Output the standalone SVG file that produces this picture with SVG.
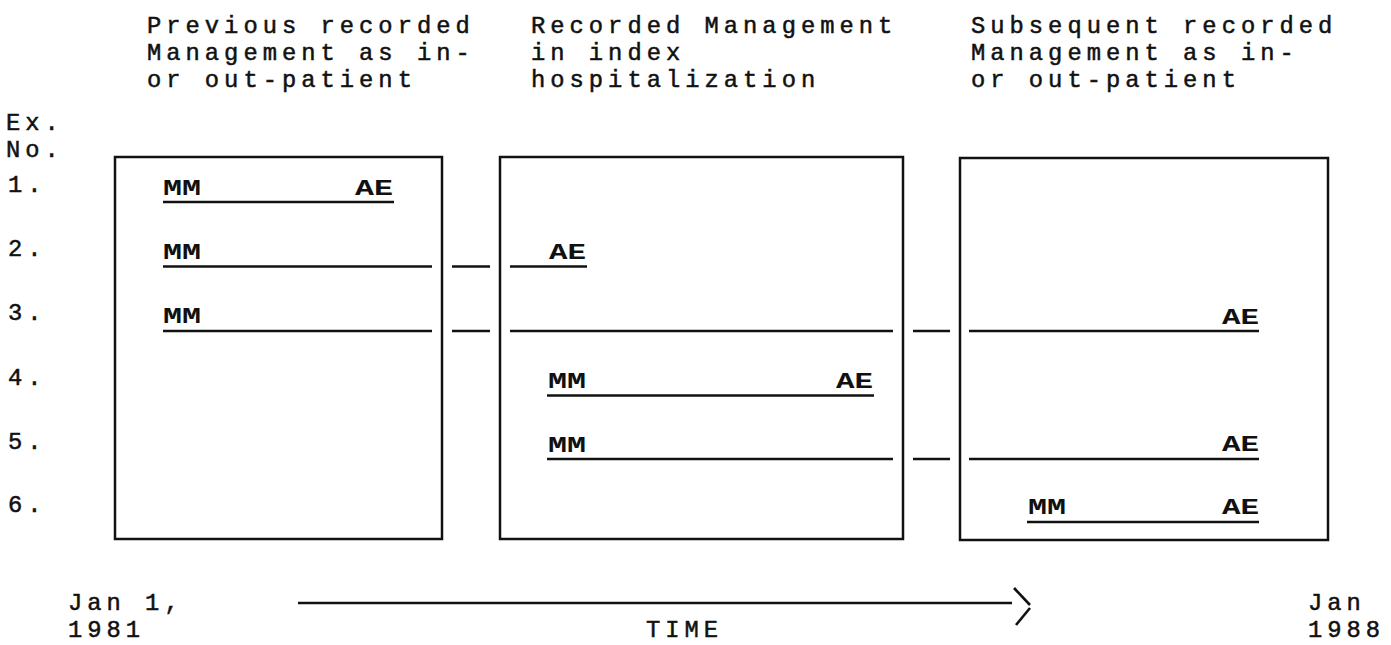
<svg xmlns="http://www.w3.org/2000/svg" width="1391" height="645" viewBox="0 0 1391 645">
  <style>
    .t { font-family: "Liberation Mono", "Courier New", monospace; font-size: 23.8px; letter-spacing: 5px; fill: #111; stroke: #111; stroke-width: 0.5; }
    .ev { font-family: "Liberation Mono", "Courier New", monospace; font-size: 22px; font-weight: bold; fill: #111; }
    .box { fill: none; stroke: #111; stroke-width: 2.5; }
    .ln { stroke: #111; stroke-width: 2.6; fill: none; }
  </style>
  <rect width="1391" height="645" fill="#fff"/>

  <g id="headings">
    <text class="t" x="147" y="33">Previous recorded</text>
    <text class="t" x="147" y="60">Management as in-</text>
    <text class="t" x="147" y="87">or out-patient</text>
    <text class="t" x="531" y="33">Recorded Management</text>
    <text class="t" x="531" y="60">in index</text>
    <text class="t" x="531" y="87">hospitalization</text>
    <text class="t" x="971" y="33">Subsequent recorded</text>
    <text class="t" x="971" y="60">Management as in-</text>
    <text class="t" x="971" y="87">or out-patient</text>
  </g>

  <g id="row-labels">
    <text class="t" x="6" y="130">Ex.</text>
    <text class="t" x="6" y="157">No.</text>
    <text class="t" x="8" y="192">1.</text>
    <text class="t" x="8" y="256">2.</text>
    <text class="t" x="8" y="320">3.</text>
    <text class="t" x="8" y="385">4.</text>
    <text class="t" x="8" y="449">5.</text>
    <text class="t" x="8" y="512">6.</text>
  </g>

  <g id="box-previous">
    <rect class="box" x="115" y="157" width="327" height="382"/>
  </g>
  <g id="box-index">
    <rect class="box" x="500" y="157" width="403" height="382"/>
  </g>
  <g id="box-subsequent">
    <rect class="box" x="960" y="158" width="368" height="382"/>
  </g>

  <g id="connectors">
    <line class="ln" x1="163" y1="202" x2="394" y2="202"/>
    <line class="ln" x1="163" y1="266.5" x2="432" y2="266.5"/>
    <line class="ln" x1="452" y1="266.5" x2="490" y2="266.5"/>
    <line class="ln" x1="510" y1="266.5" x2="587" y2="266.5"/>
    <line class="ln" x1="163" y1="331" x2="432" y2="331"/>
    <line class="ln" x1="452" y1="331" x2="490" y2="331"/>
    <line class="ln" x1="510" y1="331" x2="893" y2="331"/>
    <line class="ln" x1="913" y1="331" x2="950" y2="331"/>
    <line class="ln" x1="969" y1="331" x2="1259" y2="331"/>
    <line class="ln" x1="547" y1="395.5" x2="874" y2="395.5"/>
    <line class="ln" x1="547" y1="459" x2="893" y2="459"/>
    <line class="ln" x1="913" y1="459" x2="950" y2="459"/>
    <line class="ln" x1="969" y1="459" x2="1259" y2="459"/>
    <line class="ln" x1="1027" y1="522" x2="1259" y2="522"/>
  </g>

  <g id="events">
    <text class="ev" x="163" y="195" textLength="38" lengthAdjust="spacingAndGlyphs">MM</text>
    <text class="ev" x="355" y="195" textLength="38" lengthAdjust="spacingAndGlyphs">AE</text>
    <text class="ev" x="163" y="259" textLength="38" lengthAdjust="spacingAndGlyphs">MM</text>
    <text class="ev" x="549" y="259" textLength="37" lengthAdjust="spacingAndGlyphs">AE</text>
    <text class="ev" x="163" y="323" textLength="38" lengthAdjust="spacingAndGlyphs">MM</text>
    <text class="ev" x="1222" y="324" textLength="37" lengthAdjust="spacingAndGlyphs">AE</text>
    <text class="ev" x="548" y="388" textLength="38" lengthAdjust="spacingAndGlyphs">MM</text>
    <text class="ev" x="836" y="388" textLength="37" lengthAdjust="spacingAndGlyphs">AE</text>
    <text class="ev" x="548" y="452" textLength="38" lengthAdjust="spacingAndGlyphs">MM</text>
    <text class="ev" x="1222" y="451" textLength="37" lengthAdjust="spacingAndGlyphs">AE</text>
    <text class="ev" x="1028" y="514" textLength="38" lengthAdjust="spacingAndGlyphs">MM</text>
    <text class="ev" x="1222" y="514" textLength="37" lengthAdjust="spacingAndGlyphs">AE</text>
  </g>

  <g id="timeline">
    <line class="ln" x1="298" y1="603" x2="1012" y2="603"/>
    <line class="ln" x1="1014" y1="588" x2="1030" y2="605"/>
    <line class="ln" x1="1030" y1="608" x2="1016" y2="625"/>
    <text class="t" x="68" y="610">Jan 1,</text>
    <text class="t" x="68" y="637">1981</text>
    <text class="t" x="646" y="637">TIME</text>
    <text class="t" x="1308" y="610">Jan</text>
    <text class="t" x="1308" y="637">1988</text>
  </g>
</svg>
